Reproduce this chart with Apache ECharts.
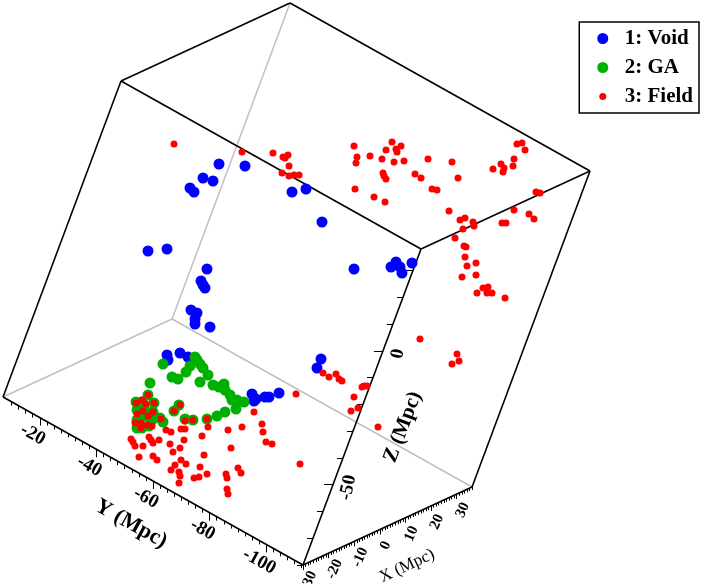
<!DOCTYPE html>
<html>
<head>
<meta charset="utf-8">
<script src="https://cdn.jsdelivr.net/npm/echarts@6.0.0/dist/echarts.min.js"></script>
<style>
html, body { margin: 0; padding: 0; background: #fff; }
#chart { width: 705px; height: 584px; }
</style>
</head>
<body>
<div id="chart"></div>
<script>
// box extent (Mpc) and tick labels
var xRange = [-30, 36];
var yRange = [-113, -7];
var zRange = [-80, 38];
var xTicks = [-30, -20, -10, 0, 10, 20, 30];
var yTicks = [-20, -40, -60, -80, -100];
var zTicks = [0, -50];

// points, in the view plane
var voidPts = [
    [219, 164], [245, 166], [203, 178], [213, 181], [190, 188], [194, 192],
    [292, 192], [306, 189], [322, 222], [148, 251], [167, 249], [207, 269],
    [201, 281], [203, 285], [205, 288], [191, 310], [197, 313], [195, 319],
    [195, 324], [210, 327], [354, 269], [391, 267], [396, 262], [400, 267],
    [402, 273], [412, 263], [167, 355], [168, 360], [180, 353], [188, 357],
    [252, 394], [254, 401], [256, 399], [265, 397], [269, 397], [279, 393],
    [321, 359], [317, 368]
];
var gaPts = [
    [163, 364], [195, 357], [197, 360], [190, 366], [200, 364], [203, 368],
    [186, 372], [172, 377], [178, 379], [208, 375], [200, 382], [150, 383],
    [213, 385], [219, 387], [224, 384], [225, 390], [230, 395], [232, 400],
    [237, 400], [244, 402], [236, 409], [225, 412], [217, 416], [207, 419],
    [193, 420], [185, 419], [179, 405], [174, 411], [163, 422], [160, 418],
    [136, 402], [142, 402], [148, 395], [154, 403], [137, 410], [145, 410],
    [153, 412], [137, 420], [142, 417], [148, 416], [152, 420], [137, 428],
    [142, 428], [149, 426]
];
var fieldPts = [
    [148, 395], [136, 403], [142, 400], [146, 404], [154, 403], [137, 414],
    [143, 411], [148, 416], [153, 412], [135, 423], [141, 423], [147, 425],
    [152, 426], [141, 428], [161, 419], [174, 411], [180, 405], [185, 421],
    [193, 420], [207, 419], [254, 412], [242, 427], [262, 424], [263, 432],
    [228, 430], [208, 427], [202, 436], [181, 429], [185, 429], [166, 430],
    [171, 432], [131, 439], [133, 442], [135, 446], [143, 446], [149, 437],
    [151, 440], [153, 443], [159, 440], [139, 457], [153, 456], [157, 460],
    [170, 444], [173, 452], [180, 448], [184, 440], [181, 460], [186, 464],
    [175, 465], [171, 470], [179, 472], [180, 476], [179, 483], [194, 478],
    [199, 477], [200, 467], [204, 455], [207, 474], [226, 474], [227, 478],
    [227, 489], [228, 494], [231, 448], [238, 468], [241, 473], [266, 442],
    [272, 444], [296, 394], [300, 464], [323, 373], [329, 377], [336, 374],
    [339, 379], [342, 381], [362, 387], [364, 386], [367, 386], [354, 397],
    [351, 411], [358, 408], [378, 427], [420, 339], [457, 354], [459, 361],
    [452, 364], [174, 144], [242, 152], [273, 153], [283, 157], [285, 158],
    [288, 155], [289, 166], [282, 173], [289, 176], [294, 175], [299, 175],
    [354, 146], [357, 157], [356, 163], [370, 156], [386, 150], [392, 142],
    [396, 149], [397, 152], [401, 146], [382, 159], [394, 162], [404, 161],
    [428, 159], [452, 162], [383, 173], [384, 176], [386, 179], [415, 174],
    [421, 178], [458, 178], [355, 189], [374, 197], [385, 202], [432, 189],
    [437, 190], [517, 144], [522, 143], [525, 150], [514, 159], [501, 164],
    [504, 168], [503, 172], [513, 166], [493, 169], [536, 192], [540, 193],
    [449, 211], [460, 220], [465, 218], [463, 229], [473, 222], [474, 226],
    [514, 210], [529, 214], [534, 219], [502, 223], [506, 223], [455, 238],
    [464, 246], [466, 247], [465, 257], [476, 263], [467, 266], [476, 275],
    [462, 277], [477, 293], [483, 288], [488, 287], [492, 293], [487, 293],
    [505, 298]
];

// fixed camera: where the (xmin, ymin, zmin) corner lands and the step per Mpc
var view = {
    origin: [303, 565],
    ex: [2.561, -1.182],
    ey: [-2.830, -1.585],
    ez: [1.0, -2.678]
};
function project(x, y, z) {
    var dx = x - xRange[0], dy = y - yRange[0], dz = z - zRange[0];
    return [
        view.origin[0] + dx * view.ex[0] + dy * view.ey[0] + dz * view.ez[0],
        view.origin[1] + dx * view.ex[1] + dy * view.ey[1] + dz * view.ez[1]
    ];
}

var x0 = xRange[0], x1 = xRange[1], y0 = yRange[0], y1 = yRange[1], z0 = zRange[0], z1 = zRange[1];
function seg(a, b) { return { coords: [project.apply(null, a), project.apply(null, b)] }; }

var blackEdges = [
    seg([x0, y1, z1], [x1, y1, z1]), seg([x1, y1, z1], [x1, y0, z1]),
    seg([x1, y0, z1], [x0, y0, z1]), seg([x0, y0, z1], [x0, y1, z1]),
    seg([x0, y1, z1], [x0, y1, z0]), seg([x0, y0, z1], [x0, y0, z0]),
    seg([x1, y0, z1], [x1, y0, z0]), seg([x0, y1, z0], [x0, y0, z0]),
    seg([x0, y0, z0], [x1, y0, z0])
];
var grayEdges = [
    seg([x1, y1, z1], [x1, y1, z0]), seg([x1, y1, z0], [x0, y1, z0]),
    seg([x1, y1, z0], [x1, y0, z0])
];

function tick(p, dx, dy) { return { coords: [p, [p[0] + dx, p[1] + dy]] }; }
var tickLines = [];
var v;
for (v = -10; v >= y0; v -= 2.5) {
    tickLines.push(tick(project(x0, v, z0), 0, v % 20 === 0 ? 8 : 4));
}
for (v = x0; v <= x1; v += 1) {
    tickLines.push(tick(project(v, y0, z0), 0, v % 10 === 0 ? 5 : 3));
}
for (v = z0; v <= z1; v += 10) {
    tickLines.push(tick(project(x0, y0, v), v % 50 === 0 ? -9 : -6, 0));
}

function textItem(p, dx, dy, txt) { return { value: [p[0] + dx, p[1] + dy], name: txt }; }
var yLabels = yTicks.map(function (t) { return textItem(project(x0, t, z0), -7, 17, String(t)); });
var xLabels = xTicks.map(function (t) { return textItem(project(t, y0, z0), 6, 16, String(t)); });
var zLabels = zTicks.map(function (t) { return textItem(project(x0, y0, t), 15, 3, String(t)); });

var serif = 'Liberation Serif, Times New Roman, serif';
function textSeries(data, rotate, size, weight) {
    return {
        type: 'scatter', data: data, symbolSize: 1, silent: true, z: 5,
        itemStyle: { color: '#fff', opacity: 0 },
        label: {
            show: true, position: 'inside', formatter: '{b}', rotate: rotate,
            color: '#000', opacity: 1, textBorderWidth: 0, textBorderColor: 'transparent',
            fontFamily: serif, fontSize: size, fontWeight: weight
        },
        labelLayout: { hideOverlap: false }
    };
}
function lineSeries(data, color, width, z) {
    return {
        type: 'lines', coordinateSystem: 'cartesian2d', data: data, silent: true, z: z,
        lineStyle: { color: color, width: width, opacity: 1 }
    };
}

var chart = echarts.init(document.getElementById('chart'));
chart.setOption({
    animation: false,
    backgroundColor: '#fff',
    grid: { left: 0, right: 0, top: 0, bottom: 0 },
    xAxis: { type: 'value', min: 0, max: 705, show: false },
    yAxis: { type: 'value', min: 0, max: 584, inverse: true, show: false },
    legend: {
        orient: 'vertical', right: 6, top: 22,
        padding: [6, 6, 6, 18], itemGap: 8,
        itemWidth: 34, itemHeight: 11,
        borderColor: '#000', borderWidth: 1.5,
        textStyle: { fontFamily: serif, fontSize: 21, fontWeight: 'bold', color: '#000' },
        data: [
            { name: '1: Void', icon: 'circle' },
            { name: '2: GA', icon: 'circle' },
            { name: '3: Field', icon: 'path://M0,0M22,22M4,11A7,7,0,1,0,18,11A7,7,0,1,0,4,11Z' }
        ]
    },
    series: [
        lineSeries(grayEdges, '#c0c0c0', 1.5, 0),
        lineSeries(blackEdges, '#000', 1.6, 1),
        lineSeries(tickLines, '#000', 1, 1),
        { name: '1: Void', type: 'scatter', data: voidPts, symbolSize: 11, z: 3, silent: true,
          itemStyle: { color: '#0000ff', opacity: 1 } },
        { name: '2: GA', type: 'scatter', data: gaPts, symbolSize: 11, z: 3, silent: true,
          itemStyle: { color: '#00b000', opacity: 1 } },
        { name: '3: Field', type: 'scatter', data: fieldPts, symbolSize: 7, z: 4, silent: true,
          itemStyle: { color: '#ff0000', opacity: 1 } },
        textSeries(yLabels, -29, 19, 'bold'),
        textSeries(xLabels, 66, 15, 'bold'),
        textSeries(zLabels, 78, 19, 'bold'),
        textSeries([{ value: [131, 524], name: 'Y (Mpc)' }], -29, 22, 'bold'),
        textSeries([{ value: [407, 566], name: 'X (Mpc)' }], 25, 17, 'normal'),
        textSeries([{ value: [403, 427], name: 'Z (Mpc)' }], 69, 21, 'bold')
    ]
});
</script>
</body>
</html>
